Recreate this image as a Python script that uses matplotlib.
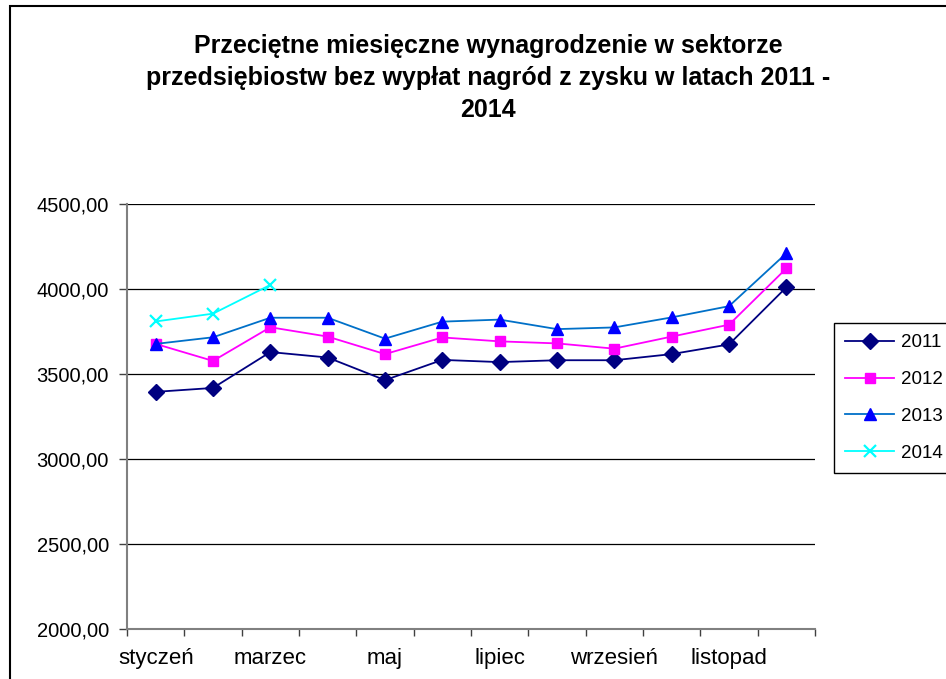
import matplotlib
matplotlib.use("Agg")
import matplotlib.pyplot as plt
from matplotlib.patches import Rectangle
from matplotlib.ticker import FuncFormatter, FixedLocator

months = ["styczeń", "luty", "marzec", "kwiecień", "maj", "czerwiec",
          "lipiec", "sierpień", "wrzesień", "październik", "listopad", "grudzień"]
shown_labels = ["styczeń", "", "marzec", "", "maj", "", "lipiec", "", "wrzesień", "", "listopad", ""]

s2011 = [3395, 3418, 3629, 3597, 3464, 3583, 3570, 3581, 3581, 3617, 3674, 4010]
s2012 = [3677, 3577, 3775, 3720, 3617, 3715, 3692, 3680, 3649, 3720, 3790, 4121]
s2013 = [3677, 3716, 3831, 3831, 3708, 3808, 3820, 3764, 3774, 3833, 3899, 4210]
s2014 = [3809, 3855, 4024]

title = "Przeciętne miesięczne wynagrodzenie w sektorze\nprzedsiębiostw bez wypłat nagród z zysku w latach 2011 -\n2014"
yticks = [2000, 2500, 3000, 3500, 4000, 4500]

plt.rcParams['font.family'] = ['Liberation Sans', 'DejaVu Sans']

fig = plt.figure(figsize=(9.46, 6.79), dpi=100)
ax = fig.add_axes([127/946, 1-629/679, (815-127)/946, (629-204)/679])

x = list(range(len(months)))
ax.plot(x, s2011, color="#000080", lw=1.3, marker="D", ms=8, mfc="#000080", mec="#000080", label="2011", zorder=3)
ax.plot(x, s2012, color="#FF00FF", lw=1.3, marker="s", ms=7.5, mfc="#FF00FF", mec="#FF00FF", label="2012", zorder=3)
ax.plot(x, s2013, color="#0070C8", lw=1.3, marker="^", ms=9, mfc="#0000FF", mec="#0000FF", label="2013", zorder=3)
ax.plot(x[:len(s2014)], s2014, color="#00FFFF", lw=1.3, marker="x", ms=9, mew=1.6, mec="#00FFFF", label="2014", zorder=3)

ax.set_xlim(-0.5, 11.5)
ax.set_ylim(2000, 4500)
ax.set_yticks(yticks)
ax.yaxis.set_major_formatter(FuncFormatter(lambda v, p: f"{v:.2f}".replace(".", ",")))
ax.grid(axis="y", color="black", lw=0.9)
ax.set_axisbelow(True)

ax.set_xticks(x)
ax.set_xticklabels(shown_labels)
ax.xaxis.set_minor_locator(FixedLocator([i - 0.5 for i in range(13)]))
ax.tick_params(axis="x", which="major", length=0, pad=14, labelsize=16)
ax.tick_params(axis="x", which="minor", length=5, width=1, color="#404040", direction="out")
ax.tick_params(axis="y", length=6, width=1, color="#404040", direction="out", pad=7, labelsize=14.5)

for side in ["top", "right"]:
    ax.spines[side].set_visible(False)
for side in ["left", "bottom"]:
    ax.spines[side].set_color("#808080")
    ax.spines[side].set_linewidth(1.5)

fig.text(488/946, 1-34/679, title, ha="center", va="top", fontsize=18, fontweight="bold",
         linespacing=1.42, transform=fig.transFigure)

leg = fig.legend(loc="upper left", bbox_to_anchor=(834/946, 1-323/679), fontsize=13.5,
                 frameon=True, fancybox=False, edgecolor="black", framealpha=1,
                 handlelength=2.6, handletextpad=0.35, borderpad=0.6, borderaxespad=0,
                 labelspacing=1.05)
leg.get_frame().set_linewidth(1)

fig.patches.append(Rectangle((10/946, -0.1), 1.2, 1-6/679+0.1, transform=fig.transFigure,
                             fill=False, edgecolor="black", lw=1.5, figure=fig))

fig.savefig("out.png", dpi=100)
